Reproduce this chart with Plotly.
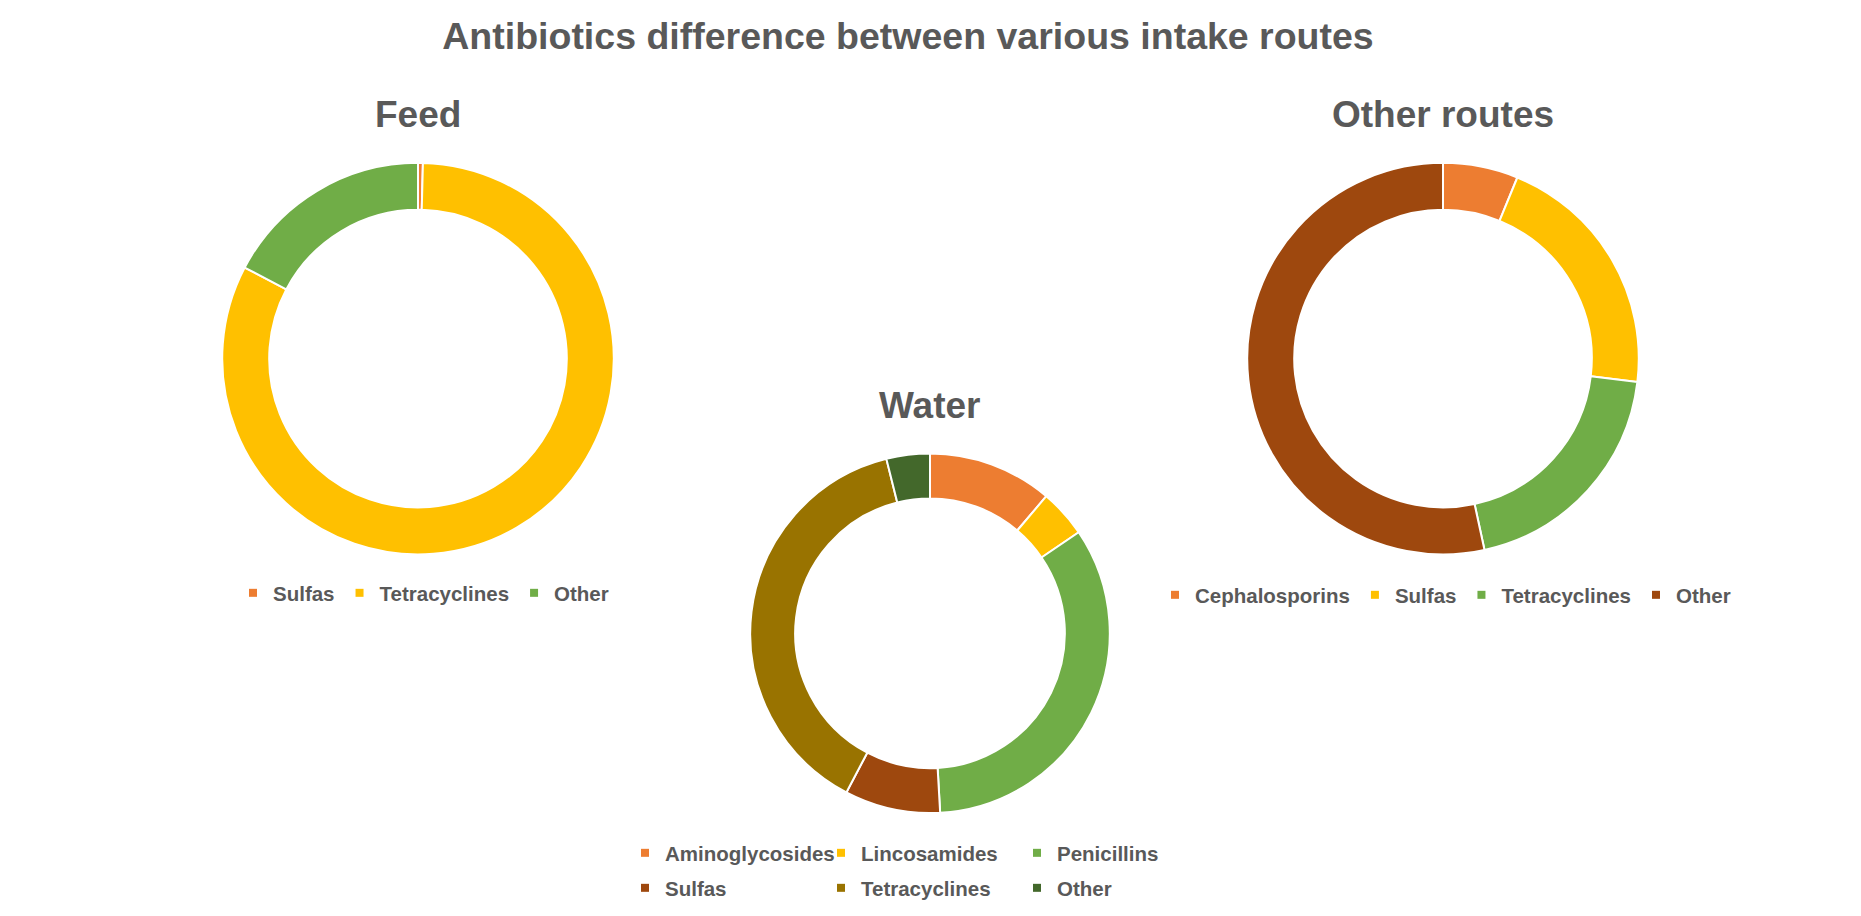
import plotly.graph_objects as go

# ---------------- data ----------------
chart_title = "Antibiotics difference between various intake routes"
pie_titles = ["Feed", "Water", "Other routes"]

feed_labels = ["Sulfas", "Tetracyclines", "Other"]
feed_values = [0.4, 82.3, 17.3]
feed_colors = ["#ED7D31", "#FFC000", "#70AD47"]

water_labels = ["Aminoglycosides", "Lincosamides", "Penicillins",
                "Sulfas", "Tetracyclines", "Other"]
water_values = [11.2, 4.3, 33.6, 8.6, 38.4, 3.9]
water_colors = ["#ED7D31", "#FFC000", "#70AD47", "#9E480E", "#997300", "#43682B"]

other_labels = ["Cephalosporins", "Sulfas", "Tetracyclines", "Other"]
other_values = [6.2, 20.7, 19.7, 53.4]
other_colors = ["#ED7D31", "#FFC000", "#70AD47", "#9E480E"]

# ---------------- layout constants (pixels in the 1861x916 window) ----------------
WIN_W, WIN_H = 1861, 916
OFF = 8                      # default page body margin
W, H = WIN_W - 2 * OFF, WIN_H - 2 * OFF
FONT = "Liberation Sans, Arial, sans-serif"
TXT = "#595959"

geo = {
    "Feed": dict(cx=418, cy=359, r=196, hole=0.76),
    "Water": dict(cx=930, cy=634, r=180, hole=0.75),
    "Other routes": dict(cx=1443, cy=359, r=196, hole=0.76),
}
title_pos = {"Feed": (418, 115), "Water": (929, 406), "Other routes": (1443, 115)}


def px_x(x):
    return (x - OFF) / W


def px_y(y):
    return 1 - (y - OFF) / H


def dom(g):
    cx, cy, r = g["cx"], g["cy"], g["r"]
    return dict(x=[px_x(cx - r), px_x(cx + r)],
                y=[px_y(cy + r), px_y(cy - r)])


fig = go.Figure()

for name, labels, values, colors in [
    ("Feed", feed_labels, feed_values, feed_colors),
    ("Water", water_labels, water_values, water_colors),
    ("Other routes", other_labels, other_values, other_colors),
]:
    g = geo[name]
    fig.add_trace(go.Pie(
        labels=labels, values=values, name=name,
        marker=dict(colors=colors, line=dict(color="white", width=2)),
        hole=g["hole"], sort=False, direction="clockwise", rotation=0,
        textinfo="none", showlegend=False, domain=dom(g),
        hovertemplate="%{label}: %{percent}<extra>" + name + "</extra>",
    ))

# legend entries (one legend per chart; Water split into two rows)
legend_groups = [
    ("legend", feed_labels, feed_colors),
    ("legend2", water_labels[:3], water_colors[:3]),
    ("legend3", water_labels[3:], water_colors[3:]),
    ("legend4", other_labels, other_colors),
]
for leg, labels, colors in legend_groups:
    for lab, col in zip(labels, colors):
        fig.add_trace(go.Scatter(
            x=[None], y=[None], mode="markers", name=lab, legend=leg,
            marker=dict(symbol="square", size=8, color=col),
            hoverinfo="skip", showlegend=True,
        ))

leg_font = dict(family=FONT, size=20.5, color=TXT, weight="bold")


def legend_cfg(x, y, entrywidth=None):
    d = dict(orientation="h", xanchor="left", yanchor="middle",
             x=px_x(x), y=px_y(y), font=leg_font,
             bgcolor="rgba(0,0,0,0)", borderwidth=0, traceorder="normal",
             itemclick=False, itemdoubleclick=False)
    if entrywidth:
        d["entrywidth"] = entrywidth
        d["entrywidthmode"] = "pixels"
    return d


annotations = []
for name in pie_titles:
    x, y = title_pos[name]
    annotations.append(dict(
        text=name, x=px_x(x), y=px_y(y), xref="paper", yref="paper",
        xanchor="center", yanchor="middle", showarrow=False,
        font=dict(family=FONT, size=37, color=TXT, weight="bold"),
    ))

fig.update_layout(
    width=W, height=H,
    margin=dict(l=0, r=0, t=0, b=0),
    paper_bgcolor="white", plot_bgcolor="white",
    title=dict(text=chart_title, x=px_x(908), y=px_y(36),
               xanchor="center", yanchor="middle",
               font=dict(family=FONT, size=37.5, color=TXT, weight="bold")),
    xaxis=dict(visible=False), yaxis=dict(visible=False),
    legend=legend_cfg(233, 593),
    legend2=legend_cfg(625, 853, entrywidth=151),
    legend3=legend_cfg(625, 889, entrywidth=151),
    legend4=legend_cfg(1155, 595),
    annotations=annotations,
    font=dict(family=FONT, color=TXT),
)

fig.write_html("out.html")
